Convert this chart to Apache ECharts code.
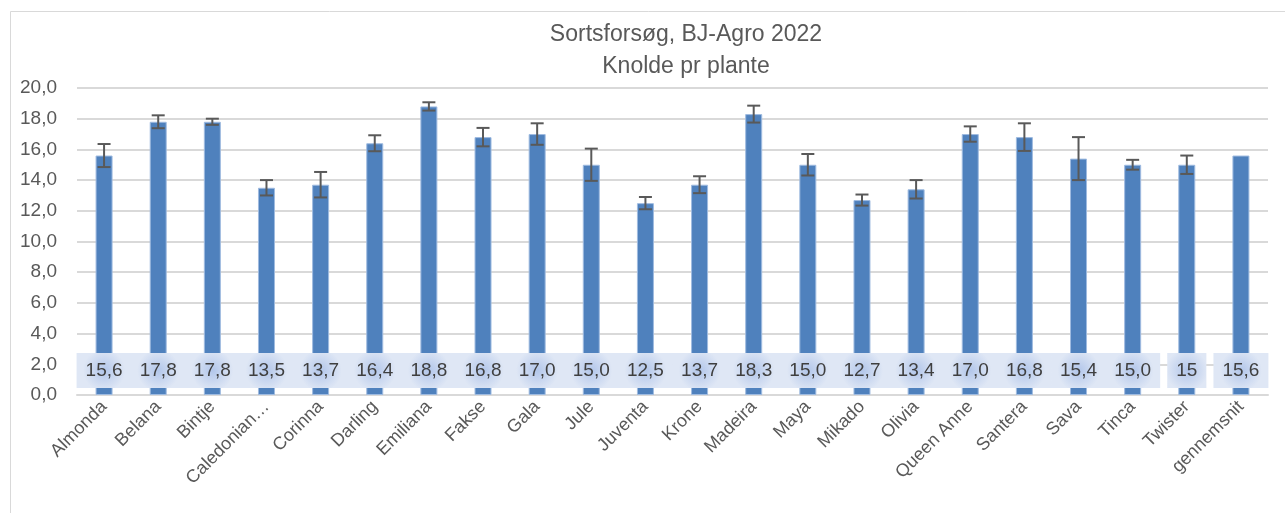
<!DOCTYPE html>
<html>
<head>
<meta charset="utf-8">
<script src="https://cdn.jsdelivr.net/npm/echarts@6/dist/echarts.min.js"></script>
<style>
  html, body { margin: 0; padding: 0; background: #fff; }
  #chart { width: 1285px; height: 513px; }
</style>
</head>
<body>
<div id="chart"></div>
<script>
// sorter (kategorier)
const categories = [
  'Almonda', 'Belana', 'Bintje', 'Caledonian…', 'Corinna', 'Darling', 'Emiliana',
  'Fakse', 'Gala', 'Jule', 'Juventa', 'Krone', 'Madeira', 'Maya', 'Mikado',
  'Olivia', 'Queen Anne', 'Santera', 'Sava', 'Tinca', 'Twister', 'gennemsnit'
]
// knolde pr plante
const values = [
  15.6, 17.8, 17.8, 13.5, 13.7, 16.4, 18.8, 16.8, 17.0, 15.0, 12.5,
  13.7, 18.3, 15.0, 12.7, 13.4, 17.0, 16.8, 15.4, 15.0, 15.0, 15.6
]
// fejlgrænser (+/-), gennemsnit har ingen
const errors = [
  0.75, 0.42, 0.2, 0.5, 0.83, 0.52, 0.27, 0.6, 0.7, 1.05, 0.4,
  0.55, 0.55, 0.7, 0.36, 0.6, 0.5, 0.9, 1.4, 0.32, 0.6, null
]
// datalabels som i Excel
const labelTexts = [
  '15,6', '17,8', '17,8', '13,5', '13,7', '16,4', '18,8', '16,8', '17,0', '15,0', '12,5',
  '13,7', '18,3', '15,0', '12,7', '13,4', '17,0', '16,8', '15,4', '15,0', '15', '15,6'
]
const yTicks = { min: 0, max: 20, interval: 2 }

const LABEL_Y = 1.6
const TEXT = '#595959'
const FONT = '"Liberation Sans", "Noto Sans", sans-serif'

const errorData = values.map((v, i) => errors[i] == null ? null : [i, v - errors[i], v + errors[i]])
  .filter(d => d)

const chart = echarts.init(document.getElementById('chart'), null, { renderer: 'canvas' })

chart.setOption({
  backgroundColor: '#fff',
  textStyle: { fontFamily: FONT },
  animation: false,
  graphic: [{
    type: 'rect',
    shape: { x: 10.5, y: 11.5, width: 1400, height: 700 },
    style: { fill: null, stroke: '#d9d9d9', lineWidth: 1 },
    silent: true,
    z: -10
  }],
  title: {
    text: 'Sortsforsøg, BJ-Agro 2022\nKnolde pr plante',
    left: 681,
    textAlign: 'center',
    top: 14,
    textStyle: { color: TEXT, fontSize: 23, fontWeight: 'normal', lineHeight: 32, fontFamily: FONT }
  },
  grid: { left: 77, right: 17, top: 88, bottom: 118, containLabel: false },
  xAxis: {
    type: 'category',
    data: categories,
    axisTick: { show: false },
    axisLine: { lineStyle: { color: '#d9d9d9', width: 2 } },
    axisLabel: {
      interval: 0,
      rotate: 45,
      margin: 9,
      color: TEXT,
      fontSize: 18,
      fontFamily: FONT
    }
  },
  yAxis: {
    type: 'value',
    min: yTicks.min,
    max: yTicks.max,
    interval: yTicks.interval,
    axisLine: { show: false },
    axisTick: { show: false },
    splitLine: { lineStyle: { color: '#d9d9d9', width: 2 } },
    axisLabel: {
      color: TEXT,
      fontSize: 19,
      margin: 20,
      fontFamily: FONT,
      formatter: v => v.toFixed(1).replace('.', ',')
    }
  },
  series: [
    {
      type: 'bar',
      data: values,
      barWidth: 17,
      itemStyle: { color: '#4f81bd', borderColor: '#9fbbe0', borderWidth: 1 },
      z: 2
    },
    {
      type: 'custom',
      data: errorData,
      z: 3,
      renderItem: (params, api) => {
        const top = api.coord([api.value(0), api.value(2)])
        const bot = api.coord([api.value(0), api.value(1)])
        const hw = 6.5
        const style = { stroke: '#595959', lineWidth: 2, fill: null }
        return {
          type: 'group',
          children: [
            { type: 'line', shape: { x1: top[0], y1: top[1], x2: bot[0], y2: bot[1] }, style },
            { type: 'line', shape: { x1: top[0] - hw, y1: top[1], x2: top[0] + hw, y2: top[1] }, style },
            { type: 'line', shape: { x1: bot[0] - hw, y1: bot[1], x2: bot[0] + hw, y2: bot[1] }, style }
          ]
        }
      }
    },
    {
      type: 'scatter',
      data: values.map((v, i) => [i, LABEL_Y]),
      symbolSize: 1,
      itemStyle: { color: 'rgba(0,0,0,0)', opacity: 1 },
      z: 4,
      label: {
        show: true,
        position: 'inside',
        formatter: p => labelTexts[p.dataIndex],
        color: '#3f3f3f',
        fontSize: 19,
        fontFamily: FONT,
        lineHeight: 20,
        padding: [8, 9, 7, 9],
        backgroundColor: {
          type: 'radial', x: 0.5, y: 0.5, r: 0.6,
          colorStops: [
            { offset: 0, color: '#b2c6ea' },
            { offset: 1, color: '#dfe7f5' }
          ]
        }
      }
    }
  ]
})
</script>
</body>
</html>
